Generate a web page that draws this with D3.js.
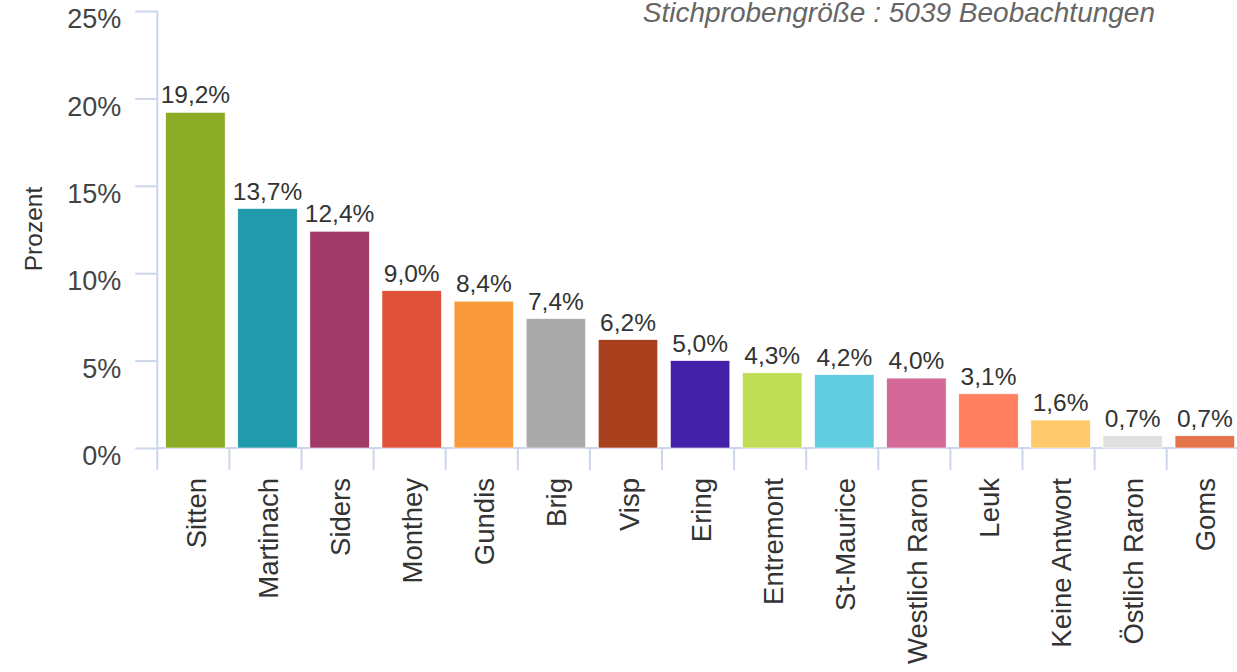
<!DOCTYPE html>
<html>
<head>
<meta charset="utf-8">
<script src="https://cdn.jsdelivr.net/npm/d3@7"></script>
<style>
  html, body { margin: 0; padding: 0; background: #fff; overflow: hidden; }
  svg { display: block; font-family: "Liberation Sans", Arial, sans-serif; }
</style>
</head>
<body>
<svg id="chart" width="1237" height="672"></svg>
<script>
// Regions of the sample, in order of share
const categories = ["Sitten", "Martinach", "Siders", "Monthey", "Gundis", "Brig", "Visp",
  "Ering", "Entremont", "St-Maurice", "Westlich Raron", "Leuk", "Keine Antwort",
  "Östlich Raron", "Goms"];
const percents = [19.2, 13.7, 12.4, 9.0, 8.4, 7.4, 6.2, 5.0, 4.3, 4.2, 4.0, 3.1, 1.6, 0.7, 0.7];
const colors = ["#8aab23", "#219bab", "#a23a68", "#e0513a", "#f99b3c", "#aaaaaa", "#a8401e",
  "#4321a8", "#c0dd55", "#63cde0", "#d46897", "#ff7f5e", "#ffc86b", "#e0e0e0", "#e4734a"];
const yTicks = [0, 5, 10, 15, 20, 25];
const subtitle = "Stichprobengröße : 5039 Beobachtungen";
const yTitle = "Prozent";

const svg = d3.select("#chart");
const axisColor = "#ccd6eb";
const textColor = "#333";

const x = d3.scaleBand().domain(categories).range([157.3, 1238.8]).padding(0);
const y = d3.scaleLinear().domain([0, 25]).range([448, 11]);
const color = d3.scaleOrdinal().domain(categories).range(colors);
const fmt = v => d3.format(".1f")(v).replace(".", ",") + "%";

// Y axis
const yAxis = d3.axisLeft(y).tickValues(yTicks).tickSize(22).tickPadding(14)
  .tickFormat(d => d + "%");
const gy = svg.append("g").attr("transform", "translate(157.3,0)").call(yAxis);
gy.select(".domain").attr("stroke", axisColor).attr("stroke-width", 2)
  .attr("d", `M0,${y(25)}V${y(0)}`);
gy.selectAll(".tick line").attr("stroke", axisColor).attr("stroke-width", 2);
gy.selectAll(".tick text").attr("fill", "#444").style("font-size", "27px")
  .attr("dy", "0.62em").style("font-family", "'Liberation Sans', Arial, sans-serif");

// X axis
const xAxis = d3.axisBottom(x).tickSize(0).tickFormat(d => d);
const gx = svg.append("g").attr("transform", `translate(0,${y(0)})`).call(xAxis);
gx.select(".domain").attr("stroke", axisColor).attr("stroke-width", 2)
  .attr("d", `M${x.range()[0]},0H${x.range()[1]}`);
// tick marks at band boundaries
gx.selectAll(".bound").data(categories).enter().append("line")
  .attr("class", "bound")
  .attr("x1", d => x(d)).attr("x2", d => x(d))
  .attr("y1", 0).attr("y2", 22)
  .attr("stroke", axisColor).attr("stroke-width", 2);
gx.selectAll(".tick line").remove();
gx.selectAll(".tick text")
  .attr("fill", textColor)
  .style("font-size", "27.5px")
  .style("font-family", "'Liberation Sans', Arial, sans-serif")
  .attr("text-anchor", "end")
  .attr("transform", "translate(3,30) rotate(-90)")
  .attr("x", 0).attr("y", 0).attr("dy", "0.35em");

// Bars
const barOff = x.bandwidth() * 0.116;
const barW = x.bandwidth() * 0.825;
svg.append("g").selectAll("rect").data(categories).enter().append("rect")
  .attr("x", d => x(d) + barOff)
  .attr("y", (d, i) => y(percents[i]))
  .attr("width", barW)
  .attr("height", (d, i) => y(0) - y(percents[i]))
  .attr("fill", d => color(d))
  .attr("stroke", "#fff").attr("stroke-width", 0.6);

// Value labels
svg.append("g").selectAll("text").data(categories).enter().append("text")
  .attr("x", d => x(d) + barOff + barW / 2)
  .attr("y", (d, i) => y(percents[i]) - 9)
  .attr("text-anchor", "middle")
  .attr("fill", textColor)
  .style("font-size", "24.5px")
  .text((d, i) => fmt(percents[i]));

// Y axis title
svg.append("text")
  .attr("transform", `translate(33,229) rotate(-90)`)
  .attr("text-anchor", "middle").attr("dy", "0.35em")
  .attr("fill", textColor).style("font-size", "24.5px")
  .text(yTitle);

// Sample size note
svg.append("text")
  .attr("x", 1155).attr("y", 22)
  .attr("text-anchor", "end")
  .attr("fill", "#666").style("font-size", "28px").style("font-style", "italic")
  .text(subtitle);
</script>
</body>
</html>
